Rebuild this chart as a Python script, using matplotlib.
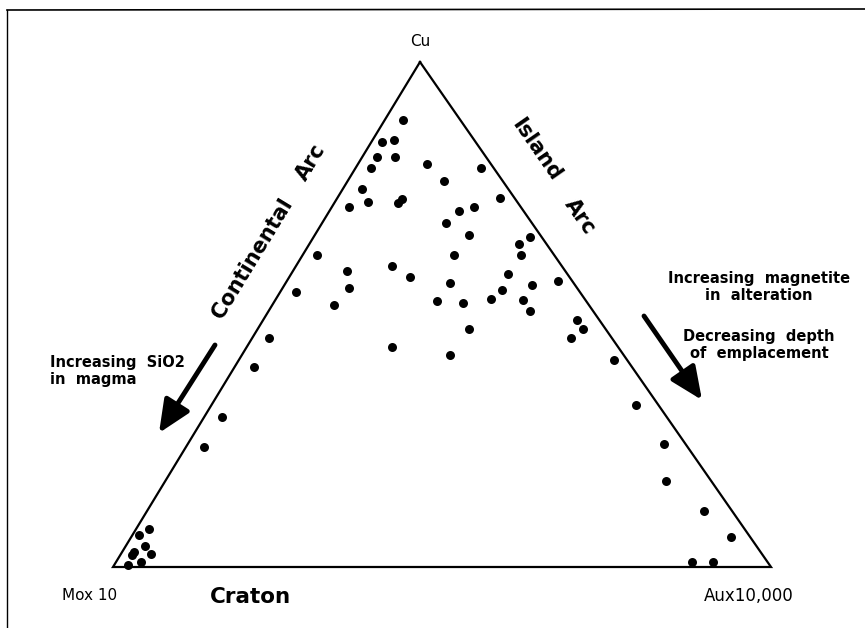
import numpy as np
import matplotlib
matplotlib.use("Agg")
import matplotlib.pyplot as plt

# compositions in percent (Mo = 100 - Cu - Au)
cu = [88.5, 84.2, 84.6, 81.2, 81.2, 79.0, 79.9, 79.0, 76.4, 74.8,
      72.2, 71.3, 72.1, 72.8, 73.0, 70.4, 71.3, 68.2, 65.7, 65.3,
      63.9, 61.8, 61.8, 61.8, 58.7, 59.7, 57.5, 58.0, 56.2, 55.8,
      56.6, 54.9, 55.3, 54.4, 53.1, 52.8, 52.7, 52.3, 51.9, 50.6,
      47.1, 48.9, 47.1, 45.4, 43.6, 42.0, 41.0, 45.3, 39.7, 29.8,
      23.8, 32.1, 24.4, 17.1, 11.1, 6.0, 0.9, 0.9,
      7.5, 6.4, 4.2, 2.6, 3.0, 2.3, 0.9, 0.3]
au = [2.8, 1.6, 3.3, 2.3, 4.9, 2.3, 10.4, 19.0, 14.6, 2.9,
      5.1, 2.6, 9.7, 10.0, 24.7, 19.8, 21.6, 18.8, 23.5, 32.9,
      31.9, 33.2, 2.1, 23.0, 8.2, 14.6, 18.3, 33.0, 25.0, 37.7,
      41.2, 33.5, 10.0, 2.4, 32.6, 37.7, 24.7, 28.8, 9.3, 39.7,
      32.2, 47.7, 49.5, 48.4, 22.1, 31.6, 57.0, 2.6, 2.9, 2.6,
      2.7, 64.5, 72.4, 76.0, 84.7, 91.1, 87.6, 90.8,
      2.0, 1.0, 2.9, 4.5, 1.8, 1.8, 3.9, 2.2]

apex_labels = ["Cu", "Mox 10", "Aux10,000"]

# triangle corners in figure pixels (Cu, Mo, Au)
P_cu = np.array([420, 62])
P_mo = np.array([113, 567])
P_au = np.array([771, 567])

W, H = 865, 628
fig = plt.figure(figsize=(W / 100, H / 100), dpi=100)
ax = fig.add_axes([0, 0, 1, 1])
ax.set_xlim(0, W)
ax.set_ylim(H, 0)
ax.axis("off")

FONT = "DejaVu Sans"

def to_xy(c, a):
    c = np.asarray(c) / 100.0
    a = np.asarray(a) / 100.0
    m = 1 - c - a
    x = m * P_mo[0] + c * P_cu[0] + a * P_au[0]
    y = m * P_mo[1] + c * P_cu[1] + a * P_au[1]
    return x, y

# scanned frame
ax.plot([7, 7], [628, 10], color="k", lw=1.0)
ax.plot([7, 865], [10, 9], color="k", lw=1.2)

# triangle
tri = np.array([P_cu, P_mo, P_au, P_cu])
ax.plot(tri[:, 0], tri[:, 1], color="k", lw=1.6, solid_joinstyle="miter")

x, y = to_xy(cu, au)
ax.scatter(x, y, s=42, color="k", zorder=3, linewidths=0)

# corner labels
ax.text(420, 42, apex_labels[0], ha="center", va="center", fontsize=11, family=FONT)
ax.text(90, 596, apex_labels[1], ha="center", va="center", fontsize=11, family=FONT)
ax.text(749, 596, apex_labels[2], ha="center", va="center", fontsize=12, family=FONT)
ax.text(250, 597, "Craton", ha="center", va="center", fontsize=15.5, family=FONT, weight="bold")

# edge labels
ang_l = np.degrees(np.arctan2(P_mo[1] - P_cu[1], P_cu[0] - P_mo[0]))
ang_r = -np.degrees(np.arctan2(P_au[1] - P_cu[1], P_au[0] - P_cu[0]))
ax.text(252, 258, "Continental", rotation=ang_l, rotation_mode="anchor",
        ha="center", va="center", fontsize=15, family=FONT, weight="bold")
ax.text(311, 162, "Arc", rotation=ang_l, rotation_mode="anchor",
        ha="center", va="center", fontsize=15, family=FONT, weight="bold")
ax.text(536, 150, "Island", rotation=ang_r, rotation_mode="anchor",
        ha="center", va="center", fontsize=15, family=FONT, weight="bold")
ax.text(580, 217, "Arc", rotation=ang_r, rotation_mode="anchor",
        ha="center", va="center", fontsize=15, family=FONT, weight="bold")

# side notes and arrows
ax.text(50, 371, "Increasing  SiO2\nin  magma", ha="left", va="center",
        fontsize=10.5, family=FONT, weight="bold", linespacing=1.15)
ax.text(759, 287, "Increasing  magnetite\nin  alteration", ha="center", va="center",
        fontsize=10.5, family=FONT, weight="bold", linespacing=1.15)
ax.text(759, 345, "Decreasing  depth\nof  emplacement", ha="center", va="center",
        fontsize=10.5, family=FONT, weight="bold", linespacing=1.15)

arrow = dict(arrowstyle="-|>,head_length=0.9,head_width=0.4", lw=3.5, color="k",
             mutation_scale=22, shrinkA=0, shrinkB=0)
ax.annotate("", xy=(159, 433), xytext=(215, 345), arrowprops=arrow)
ax.annotate("", xy=(702, 400), xytext=(644, 316), arrowprops=arrow)

fig.savefig("out.png", dpi=100)
